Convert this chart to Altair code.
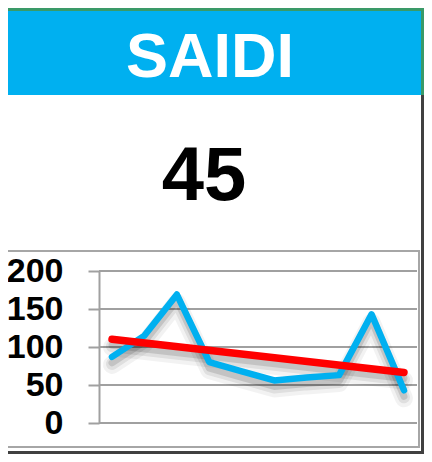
import altair as alt
import pandas as pd

# ---- data ----
periods = [1, 2, 3, 4, 5, 6, 7, 8, 9, 10]
saidi = [87, 115, 169, 80, 68, 56, 60, 63, 143, 43]
y_ticks = [0, 50, 100, 150, 200]
title_text = ["SAIDI"]
current_value = ["45"]

W, H = 416, 446
df = pd.DataFrame({"period": periods, "saidi": saidi})
ticks_df = pd.DataFrame({"tick": y_ticks})
one = pd.DataFrame({"k": [0]})

xs = alt.Scale(domain=[1, 10], range=[104, 396], nice=False, zero=False)
ys = alt.Scale(domain=[0, 200], range=[415, 263], nice=False, zero=False)

GRID = "#a0a0a0"
CYAN = "#00b0f0"


def rect(x, x2, y, y2, color, **kw):
    return alt.Chart(one).mark_rect(color=color, **kw).encode(
        x=alt.value(x), x2=alt.value(x2), y=alt.value(y), y2=alt.value(y2)
    )


green_top = rect(0, W, 0, 3, "#3a9a68")
green_right = rect(413, W, 0, 87, "#3a9a68")
header = rect(0, 413, 3, 87, CYAN)
dark_right = rect(413, W, 87, H, "#404040")
dark_bottom = rect(0, W, 443, H, "#404040")
box = alt.Chart(one).mark_rect(fillOpacity=0, stroke="#a6a6a6", strokeWidth=2).encode(
    x=alt.value(-5), x2=alt.value(411), y=alt.value(243), y2=alt.value(439)
)

title = alt.Chart(pd.DataFrame({"t": title_text})).mark_text(
    font="Liberation Sans", fontWeight="bold", fontSize=63, color="white",
    align="center", baseline="alphabetic"
).encode(x=alt.value(202), y=alt.value(69), text="t:N")

value = alt.Chart(pd.DataFrame({"t": current_value})).mark_text(
    font="Liberation Sans", fontWeight="bold", fontSize=76, color="black",
    align="center", baseline="alphabetic"
).encode(x=alt.value(196), y=alt.value(192), text="t:N")

grid = alt.Chart(ticks_df).mark_rule(color=GRID, strokeWidth=2).encode(
    y=alt.Y("tick:Q", scale=ys, axis=alt.Axis(
        values=y_ticks, title=None, grid=False, offset=-91, zindex=1,
        tickSize=11, tickWidth=2, tickColor=GRID,
        domainColor=GRID, domainWidth=2,
        labelFont="Liberation Sans", labelFontWeight="bold", labelFontSize=34,
        labelColor="black", labelPadding=25, labelBaseline="middle",
    )),
    x=alt.value(91), x2=alt.value(409),
)

base = alt.Chart(df).encode(
    x=alt.X("period:Q", scale=xs, axis=None),
    y=alt.Y("saidi:Q", scale=ys, axis=None),
)

shadow_layers = []
for w, op, off in [(18, 0.05, 8), (12, 0.08, 7), (7, 0.12, 6)]:
    shadow_layers.append(base.mark_line(color="black", opacity=op, strokeWidth=w,
                                        yOffset=off, strokeCap="round", strokeJoin="round"))
    shadow_layers.append(base.transform_regression("period", "saidi").mark_line(
        color="black", opacity=op, strokeWidth=w, yOffset=off, strokeCap="round"))

blue = base.mark_line(color=CYAN, strokeWidth=6.5, strokeCap="round", strokeJoin="round")
red = base.transform_regression("period", "saidi").mark_line(
    color="#ff0000", strokeWidth=7.5, strokeCap="round")

chart = alt.layer(
    green_top, green_right, header, dark_right, dark_bottom, box,
    title, value, grid, *shadow_layers, blue, red,
).resolve_axis(y="independent").properties(
    width=W, height=H, padding=0,
    autosize=alt.AutoSizeParams(type="none"),
).configure_view(stroke=None)

chart.save("out.html", embed_options={"renderer": "svg", "actions": False})
